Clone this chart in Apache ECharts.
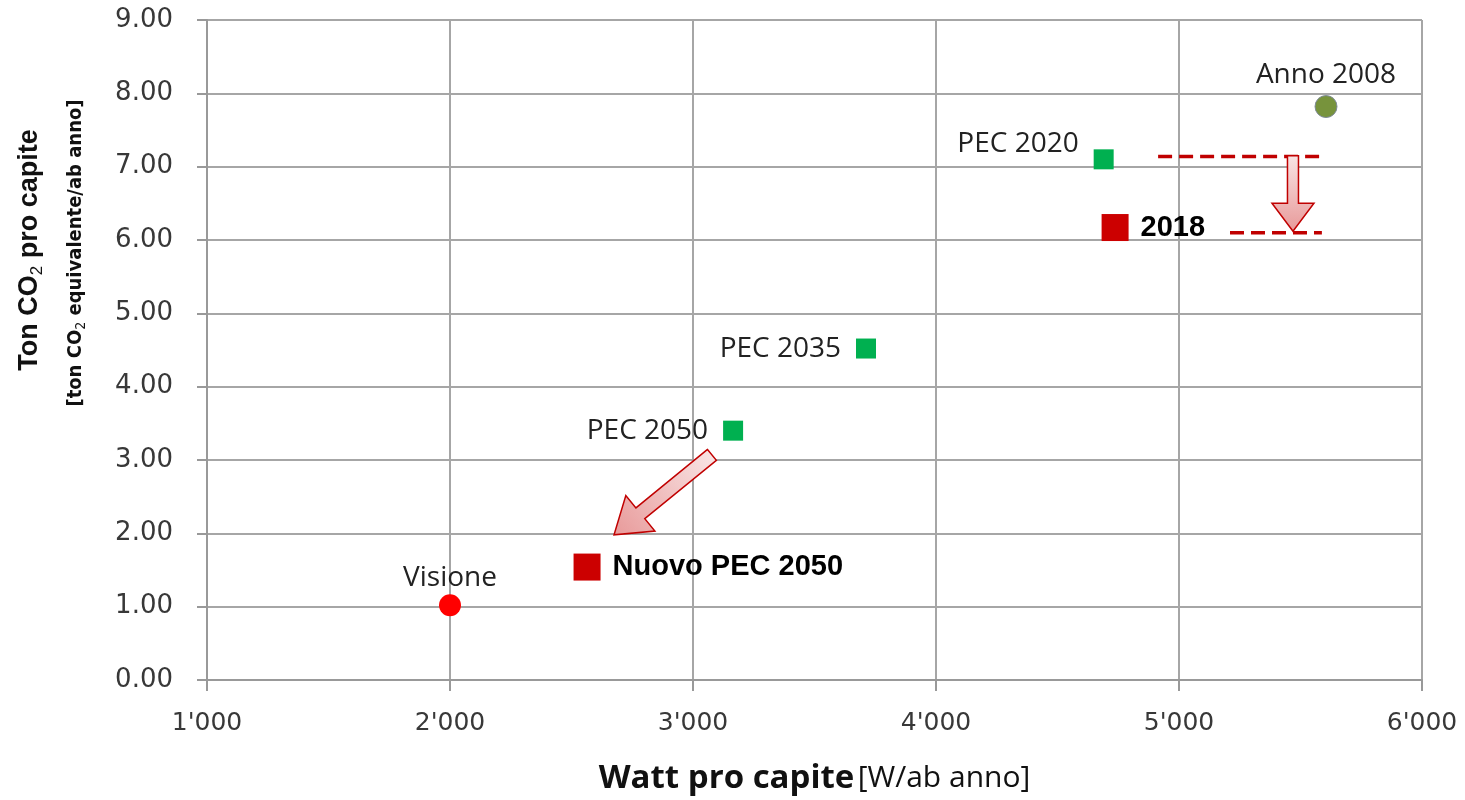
<!DOCTYPE html>
<html><head><meta charset="utf-8">
<script src="https://cdn.jsdelivr.net/npm/echarts@6/dist/echarts.min.js"></script>
<style>html,body{margin:0;padding:0;background:#fff}#c{width:1465px;height:800px}</style>
</head><body><div id="c"></div>
<script>
// Data
const xTicks = [1000, 2000, 3000, 4000, 5000, 6000];
const yTicks = [0, 1, 2, 3, 4, 5, 6, 7, 8, 9];
const greenNames = ['PEC 2020', 'PEC 2035', 'PEC 2050'];
const greenX = [4690, 3712, 3165];
const greenY = [7.10, 4.52, 3.40];
const redNames = ['2018', 'Nuovo PEC 2050'];
const redX = [4737, 2564];
const redY = [6.17, 1.54];
const annoX = [5605]; const annoY = [7.82];
const visioneX = [2000]; const visioneY = [1.02];
const dashTopX = [4914, 5588]; const dashTopY = [7.14, 7.14];
const dashLowX = [5210, 5588]; const dashLowY = [6.10, 6.10];
const arrowFromX = [5469, 3078]; const arrowFromY = [7.15, 3.07];
const arrowToX = [5469, 2675]; const arrowToY = [6.12, 1.98];

const chart = echarts.init(document.getElementById('c'));
const tickFont = 'DejaVu Sans';
const lblFont = 'Open Sans';
function pts(xs, ys){ return xs.map((x,i)=>[x, ys[i]]); }

const arrowData = arrowFromX.map((x,i)=>[x, arrowFromY[i], arrowToX[i], arrowToY[i]]);

option = {
  animation: false,
  grid: {left: 207, right: 43, top: 20, bottom: 120, containLabel: false, outerBoundsMode: 'none'},
  xAxis: {
    type: 'value', min: 1000, max: 6000, interval: 1000,
    axisLine: {show: true, lineStyle: {color: '#999', width: 2}},
    axisTick: {show: true, length: 11, lineStyle: {color: '#999', width: 2}},
    splitLine: {show: true, lineStyle: {color: '#a6a6a6', width: 2}},
    axisLabel: {fontFamily: tickFont, fontSize: 25, color: '#383838', margin: 31,
      formatter: v => String(v/1000) + "'000"},
    name: '{b|Watt pro capite} {s|[W/ab anno]}',
    nameLocation: 'middle', nameGap: 82,
    nameTextStyle: {rich: {
      b: {fontFamily: 'Open Sans', fontWeight: 'bold', fontSize: 33, color: '#111'},
      s: {fontFamily: 'Open Sans', fontWeight: 'normal', fontSize: 30, color: '#111'}
    }}
  },
  yAxis: {
    type: 'value', min: 0, max: 9, interval: 1,
    axisLine: {show: true, lineStyle: {color: '#999', width: 2}},
    axisTick: {show: true, length: 10, lineStyle: {color: '#999', width: 2}},
    splitLine: {show: true, lineStyle: {color: '#a6a6a6', width: 2}},
    axisLabel: {fontFamily: tickFont, fontSize: 26, color: '#383838', margin: 34,
      formatter: v => v.toFixed(2)}
  },
  graphic: [
    {type: 'text', x: 30, y: 250, rotation: Math.PI/2,
     style: {text: '{a|Ton CO}{s|2}{a| pro capite}', align: 'center', verticalAlign: 'middle',
       rich: {a: {fontFamily: 'Liberation Sans', fontWeight: 'bold', fontSize: 27, fill: '#111'},
              s: {fontFamily: 'Liberation Sans', fontWeight: 'normal', fontSize: 17, fill: '#111', padding: [14,0,0,0]}}}},
    {type: 'text', x: 76, y: 253, rotation: Math.PI/2,
     style: {text: '{a|[ton CO}{s|2}{a| equivalente/ab anno]}', align: 'center', verticalAlign: 'middle',
       rich: {a: {fontFamily: "'DejaVu Sans Condensed', 'Liberation Sans', sans-serif", fontWeight: 'bold', fontSize: 20, fill: '#111'},
              s: {fontFamily: "'DejaVu Sans Condensed', 'Liberation Sans', sans-serif", fontWeight: 'normal', fontSize: 14, fill: '#111', padding: [10,0,0,0]}}}}
  ],
  series: [
    {type: 'line', data: pts(dashTopX, dashTopY), symbol: 'none', z: 3,
     lineStyle: {color: '#C00000', width: 3.5, type: [14, 7]}},
    {type: 'line', data: pts(dashLowX, dashLowY), symbol: 'none', z: 3,
     lineStyle: {color: '#C00000', width: 3.5, type: [14, 7]}},
    {type: 'custom', z: 4, data: arrowData,
     renderItem: function(params, api){
       const a = api.coord([api.value(0), api.value(1)]);
       const b = api.coord([api.value(2), api.value(3)]);
       const dx = b[0]-a[0], dy = b[1]-a[1];
       const L = Math.sqrt(dx*dx+dy*dy);
       const ux = dx/L, uy = dy/L, nx = -uy, ny = ux;
       const diag = params.dataIndex === 1;
       const sw = diag ? 7 : 5.5, hw = diag ? 23 : 21, hl = diag ? 34 : 28;
       const hx = b[0]-ux*hl, hy = b[1]-uy*hl;
       const p = [
         [a[0]+nx*sw, a[1]+ny*sw], [hx+nx*sw, hy+ny*sw], [hx+nx*hw, hy+ny*hw], b,
         [hx-nx*hw, hy-ny*hw], [hx-nx*sw, hy-ny*sw], [a[0]-nx*sw, a[1]-ny*sw]
       ];
       return {type: 'polygon', shape: {points: p},
         style: {fill: new echarts.graphic.LinearGradient(a[0], a[1], b[0], b[1], [
           {offset: 0, color: '#f8e4e4'}, {offset: 1, color: '#e89a9a'}], true),
           stroke: '#C00000', lineWidth: 1.5}};
     }},
    {type: 'scatter', symbol: 'rect', symbolSize: 20, z: 5,
     itemStyle: {color: '#00B050', opacity: 1},
     data: greenX.map((x,i)=>({value: [x, greenY[i]], name: greenNames[i],
       label: i === 0 ? {offset: [0, -15]} : {}})),
     label: {show: true, position: 'left', distance: 15, formatter: '{b}',
       fontFamily: lblFont, fontSize: 28, color: '#222'}},
    {type: 'scatter', symbol: 'rect', symbolSize: 27, z: 5,
     itemStyle: {color: '#CC0000', opacity: 1},
     data: redX.map((x,i)=>({value: [x, redY[i]], name: redNames[i]})),
     label: {show: true, position: 'right', distance: 12, formatter: '{b}',
       fontFamily: 'Liberation Sans', fontWeight: 'bold', fontSize: 29, color: '#000'}},
    {type: 'scatter', symbol: 'circle', symbolSize: 22, z: 5,
     itemStyle: {color: '#77933C', opacity: 1, borderColor: '#7f8a9a', borderWidth: 1},
     data: annoX.map((x,i)=>({value: [x, annoY[i]], name: 'Anno 2008'})),
     label: {show: true, position: 'top', distance: 6, formatter: '{b}',
       fontFamily: lblFont, fontSize: 28, color: '#222'}},
    {type: 'scatter', symbol: 'circle', symbolSize: 22, z: 5,
     itemStyle: {color: '#FF0000', opacity: 1},
     data: visioneX.map((x,i)=>({value: [x, visioneY[i]], name: 'Visione'})),
     label: {show: true, position: 'top', distance: 2, formatter: '{b}',
       fontFamily: lblFont, fontSize: 28, color: '#222'}}
  ]
};
chart.setOption(option);
</script></body></html>
